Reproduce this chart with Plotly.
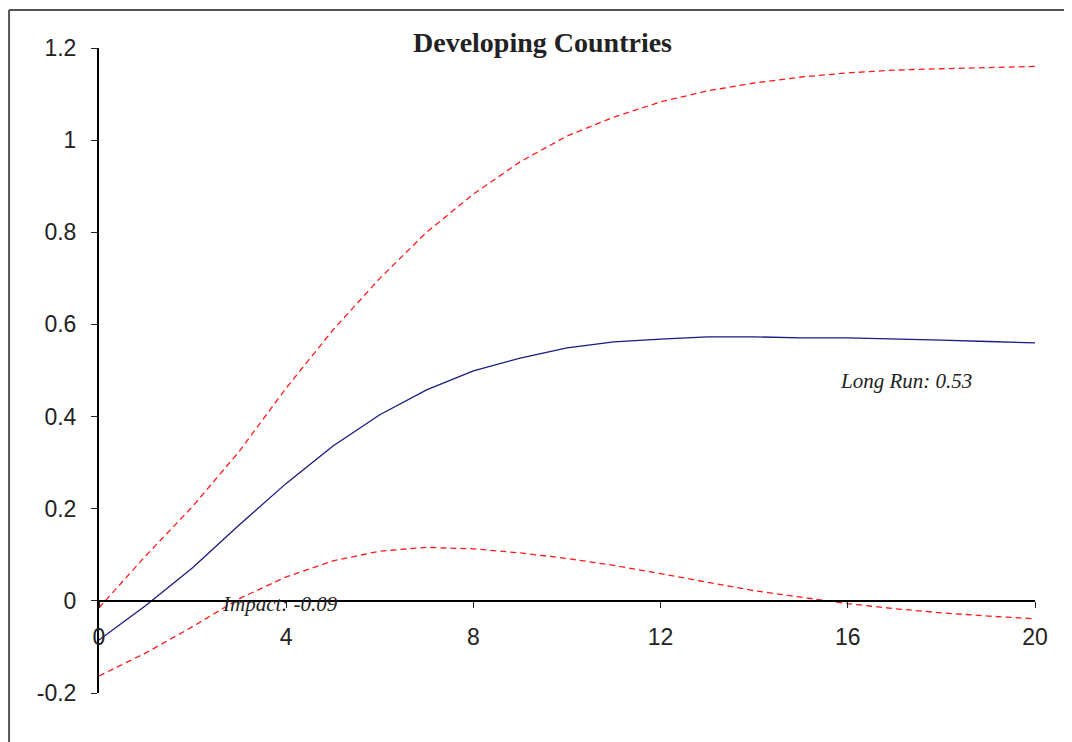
import plotly.graph_objects as go

periods = list(range(0, 21))
central = [-0.085, -0.01, 0.072, 0.165, 0.255, 0.336, 0.404, 0.458, 0.499, 0.527, 0.549,
           0.562, 0.568, 0.573, 0.573, 0.571, 0.571, 0.569, 0.566, 0.563, 0.560]
upper = [-0.015, 0.098, 0.205, 0.325, 0.462, 0.588, 0.700, 0.800, 0.883, 0.953, 1.009,
         1.050, 1.083, 1.107, 1.124, 1.137, 1.146, 1.152, 1.155, 1.157, 1.160]
lower = [-0.163, -0.113, -0.056, 0.005, 0.052, 0.087, 0.108, 0.116, 0.113, 0.104, 0.092,
         0.077, 0.059, 0.040, 0.022, 0.008, -0.006, -0.017, -0.026, -0.033, -0.039]
x_ticks = [0, 4, 8, 12, 16, 20]
y_ticks = [-0.2, 0, 0.2, 0.4, 0.6, 0.8, 1.0, 1.2]
y_tick_text = ["-0.2", "0", "0.2", "0.4", "0.6", "0.8", "1", "1.2"]

fig = go.Figure()
fig.add_trace(go.Scatter(x=periods, y=upper, mode="lines",
                         line=dict(color="#ff1a1a", width=1.3, dash="6px,4px"), showlegend=False))
fig.add_trace(go.Scatter(x=periods, y=lower, mode="lines",
                         line=dict(color="#ff1a1a", width=1.3, dash="6px,4px"), showlegend=False))
fig.add_trace(go.Scatter(x=periods, y=central, mode="lines",
                         line=dict(color="#1a1a80", width=1.3), showlegend=False))

fig.update_layout(
    width=1072, height=742,
    margin=dict(l=91, r=45, t=40, b=57),
    paper_bgcolor="white", plot_bgcolor="white",
    xaxis=dict(range=[0, 20], tickvals=x_ticks, ticks="outside", ticklen=6, tickwidth=1,
               tickcolor="#222", showline=True, linecolor="black", linewidth=2,
               showgrid=False, zeroline=False, anchor="free", position=0.2 / 1.4,
               ticklabelstandoff=10,
               tickfont=dict(family="Liberation Sans, Arial", size=23, color="#222")),
    yaxis=dict(range=[-0.2, 1.2], tickvals=y_ticks, ticktext=y_tick_text, ticks="outside",
               ticklen=6, tickwidth=1, tickcolor="#222", showline=True, linecolor="black",
               linewidth=2, showgrid=False, zeroline=False, ticklabelstandoff=10,
               tickfont=dict(family="Liberation Sans, Arial", size=23, color="#222")),
    annotations=[
        dict(text="<b>Developing Countries</b>", xref="paper", yref="paper", x=0.474, y=1.0078,
             xanchor="center", yanchor="middle", showarrow=False,
             font=dict(family="Liberation Serif, Times New Roman", size=28, color="#222")),
        dict(text="<i>Long Run: 0.53</i>", xref="x", yref="y", x=17.24, y=0.477,
             xanchor="center", yanchor="middle", showarrow=False,
             font=dict(family="Liberation Serif, Times New Roman", size=21, color="#222")),
        dict(text="<i>Impact: -0.09</i>", xref="x", yref="y", x=3.87, y=-0.007,
             xanchor="center", yanchor="middle", showarrow=False,
             font=dict(family="Liberation Serif, Times New Roman", size=21, color="#222")),
    ],
    shapes=[
        dict(type="line", xref="paper", yref="paper", x0=-0.0961, x1=-0.0961, y0=-0.2, y1=1.0589,
             line=dict(color="#555", width=2)),
        dict(type="line", xref="paper", yref="paper", x0=-0.0961, x1=1.1, y0=1.0589, y1=1.0589,
             line=dict(color="#555", width=2)),
    ],
)

fig.write_html("out.html")
